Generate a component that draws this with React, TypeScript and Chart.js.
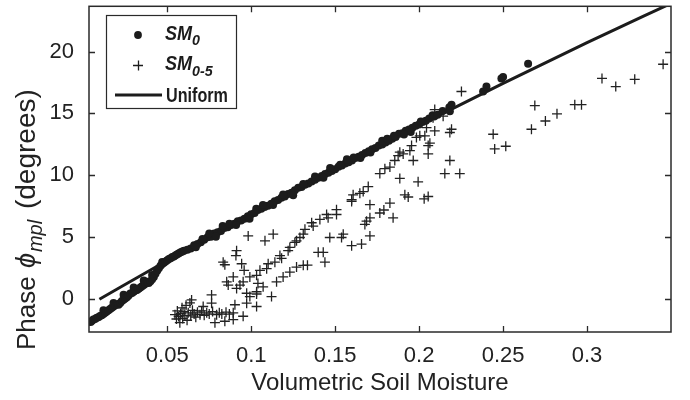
import React, { useEffect, useRef } from "react";
import { Chart, registerables } from "chart.js";

Chart.register(...registerables);

const FONT = "'Liberation Sans', Arial, Helvetica, sans-serif";
const INK = "#1c1c1c";

// ---------- axis ----------
const xRange = [0.0034, 0.35];
const yRange = [-2.65, 23.65];
const xTickValues = [0.05, 0.1, 0.15, 0.2, 0.25, 0.3];
const xTickLabels = ["0.05", "0.1", "0.15", "0.2", "0.25", "0.3"];
const yTickValues = [0, 5, 10, 15, 20];
const yTickLabels = ["0", "5", "10", "15", "20"];
const xTitle = "Volumetric Soil Moisture";

// ---------- SM0 (filled dots) ----------
const sm0LowX = [
  0.0044, 0.0052, 0.006, 0.007, 0.008, 0.009, 0.01, 0.011, 0.012, 0.012,
  0.013, 0.014, 0.015, 0.016, 0.017, 0.018, 0.018, 0.019, 0.02, 0.021,
  0.022, 0.023, 0.024, 0.024, 0.025, 0.026, 0.027, 0.028, 0.029, 0.03,
  0.03, 0.031, 0.032, 0.033, 0.034, 0.035, 0.036, 0.036, 0.037, 0.038,
  0.039, 0.04, 0.041, 0.041, 0.042, 0.043, 0.044, 0.045, 0.046, 0.047,
  0.047, 0.048, 0.049, 0.05, 0.051, 0.052, 0.053, 0.054, 0.055, 0.056,
  0.057, 0.058, 0.059, 0.06,
];
const sm0LowY = [
  -1.85, -1.75, -1.65, -1.6, -1.5, -1.45, -1.35, -1.3, -1.2, -0.9,
  -1.1, -1.0, -0.9, -0.8, -0.7, -0.6, -0.3, -0.5, -0.4, -0.45,
  -0.3, -0.15, -0.05, 0.35, 0.05, 0.15, 0.3, 0.45, 0.5, 0.6,
  0.95, 0.7, 0.75, 0.85, 0.95, 1.05, 1.15, 1.5, 1.25, 1.4,
  1.3, 1.45, 1.6, 1.95, 1.8, 2.05, 2.3, 2.5, 2.7, 2.85,
  3.0, 2.95, 3.05, 3.15, 3.25, 3.3, 3.4, 3.45, 3.55, 3.62,
  3.7, 3.78, 3.85, 3.92,
];
const sm0MainX = [
  0.062, 0.064, 0.066, 0.068, 0.07, 0.072, 0.074, 0.076, 0.078, 0.08,
  0.082, 0.084, 0.086, 0.088, 0.09, 0.092, 0.094, 0.096, 0.098, 0.1,
  0.102, 0.104, 0.106, 0.108, 0.11, 0.112, 0.114, 0.116, 0.118, 0.12,
  0.122, 0.124, 0.126, 0.128, 0.13, 0.132, 0.134, 0.136, 0.138, 0.14,
  0.142, 0.144, 0.146, 0.148, 0.15, 0.152, 0.154, 0.156, 0.158, 0.16,
  0.162, 0.164, 0.166, 0.168, 0.17, 0.172, 0.174, 0.176, 0.178, 0.18,
  0.182, 0.184, 0.186, 0.188, 0.19, 0.192, 0.194, 0.196, 0.198, 0.2,
  0.202, 0.204, 0.206, 0.208,
];
const sm0MainY = [
  4.0, 4.1, 4.35, 4.45, 4.6, 4.8, 5.0, 5.05, 5.3, 5.4,
  5.5, 5.75, 5.8, 6.0, 6.1, 6.3, 6.35, 6.5, 6.7, 6.85,
  6.95, 7.2, 7.3, 7.45, 7.55, 7.7, 7.9, 8.0, 8.2, 8.3,
  8.5, 8.6, 8.8, 9.0, 9.05, 9.25, 9.35, 9.5, 9.65, 9.8,
  9.95, 10.1, 10.2, 10.35, 10.5, 10.7, 10.8, 10.95, 11.05, 11.2,
  11.4, 11.5, 11.65, 11.8, 11.95, 12.1, 12.2, 12.4, 12.5, 12.65,
  12.8, 12.95, 13.1, 13.35, 13.4, 13.6, 13.7, 13.85, 14.0, 14.1,
  14.3, 14.4, 14.6, 14.85,
];
const sm0ExtraX = [
  0.075, 0.083, 0.099, 0.107, 0.125, 0.138, 0.147, 0.157, 0.165, 0.178,
  0.185, 0.195, 0.209, 0.211, 0.214, 0.218, 0.2183, 0.2193, 0.2381, 0.2401,
  0.249, 0.25, 0.2649, 0.067, 0.071, 0.079, 0.087, 0.091, 0.103, 0.113,
  0.119, 0.131, 0.143, 0.153, 0.161, 0.171, 0.181, 0.191, 0.201,
];
const sm0ExtraY = [
  5.3, 5.9, 6.5, 7.6, 8.4, 9.9, 10.6, 11.3, 11.4, 12.8,
  13.2, 13.5, 14.75, 14.9, 15.2, 15.5, 15.18, 15.71, 16.77, 17.17,
  17.83, 17.95, 19.02, 4.2, 4.85, 5.05, 6.1, 6.0, 7.3, 7.6,
  8.45, 9.3, 9.8, 10.85, 11.45, 11.85, 12.95, 13.3, 14.35,
];

// ---------- SM0-5 (plus markers) ----------
const sm05X = [
  0.0546, 0.0555, 0.056, 0.0568, 0.0575, 0.058, 0.0588, 0.0592, 0.06, 0.0605,
  0.0612, 0.0618, 0.0625, 0.0635, 0.064, 0.0645, 0.065, 0.066, 0.067, 0.068,
  0.0695, 0.0705, 0.0714, 0.072, 0.0735, 0.075, 0.0764, 0.0764, 0.077, 0.0784,
  0.0794, 0.081, 0.0825, 0.0843, 0.085, 0.087, 0.0893, 0.0893, 0.0903, 0.0952,
  0.0973, 0.1032, 0.0973, 0.1032, 0.0913, 0.0992, 0.1121, 0.0854, 0.0863, 0.0893,
  0.0833, 0.0843, 0.0913, 0.0909, 0.0943, 0.0958, 0.0982, 0.1082, 0.1131, 0.0933,
  0.104, 0.0952, 0.0992, 0.1032, 0.1052, 0.1092, 0.1101, 0.1141, 0.1171, 0.1181,
  0.122, 0.123, 0.126, 0.127, 0.129, 0.131, 0.132, 0.136, 0.1369, 0.1409,
  0.1449, 0.1458, 0.1508, 0.1508, 0.1598, 0.1607, 0.1647, 0.1667, 0.1697, 0.1766,
  0.1796, 0.1826, 0.1855, 0.1875, 0.1905, 0.1955, 0.1945, 0.1984, 0.2034, 0.2044,
  0.2093, 0.2054, 0.2064, 0.2093, 0.2143, 0.2083, 0.2252, 0.2193, 0.2183, 0.1885,
  0.1151, 0.119, 0.123, 0.127, 0.131, 0.1335, 0.1399, 0.1429, 0.1439, 0.1468,
  0.1538, 0.1548, 0.1598, 0.1657, 0.1707, 0.1687, 0.1707, 0.1677, 0.1766, 0.179,
  0.1845, 0.1707, 0.1826, 0.1598, 0.1915, 0.1935, 0.2054, 0.203, 0.1885, 0.1994,
  0.1965, 0.2054, 0.2183, 0.2153, 0.2242, 0.2004, 0.1071, 0.1032, 0.2441, 0.245,
  0.2516, 0.2669, 0.2689, 0.2752, 0.2821, 0.2927, 0.2967, 0.3089, 0.3171, 0.3284,
  0.3453,
];
const sm05Y = [
  -1.25, -1.6, -0.95, -1.4, -1.9, -1.15, -0.7, -1.55, -1.0, -1.3,
  -0.5, -1.7, -1.1, -0.3, -1.35, -0.06, -0.9, -1.2, -1.45, -1.05,
  -1.25, -0.95, -0.59, -1.3, -1.1, -1.2, -0.32, 0.34, -1.0, -1.9,
  -1.25, -1.1, -1.2, -1.78, -1.05, -1.2, -1.1, -1.65, -0.45, -1.38,
  -0.32, -0.59, 0.48, 0.42, 0.87, 0.21, 0.21, 1.4, 1.14, 1.8,
  2.99, 2.78, 3.92, 3.52, 2.86, 2.33, 5.11, 4.71, 5.25, 1.14,
  1.27, 1.4, 1.8, 1.93, 2.33, 2.46, 2.86, 2.99, 3.52, 3.3,
  3.92, 4.18, 4.58, 4.71, 4.98, 5.25, 5.64, 6.17, 5.9, 6.44,
  6.84, 6.57, 7.23, 6.84, 8.03, 8.43, 8.55, 8.69, 9.09, 10.14,
  10.54, 10.67, 11.2, 11.6, 11.73, 12.4, 12.0, 13.06, 13.19, 13.85,
  13.59, 12.4, 12.6, 15.31, 14.78, 14.65, 16.77, 13.72, 13.46, 11.87,
  1.4, 1.8, 2.19, 2.59, 2.73, 2.75, 3.78, 3.78, 2.99, 4.98,
  4.98, 5.25, 4.32, 4.45, 5.11, 6.3, 6.57, 6.04, 6.96, 7.2,
  6.57, 7.63, 7.76, 7.89, 8.43, 8.25, 8.29, 8.1, 9.75, 9.48,
  11.2, 11.73, 11.2, 10.14, 10.14, 13.19, 1.0, 0.6, 13.32, 12.13,
  12.35, 13.72, 15.63, 14.39, 14.97, 15.71, 15.71, 17.83, 17.17, 17.75,
  18.97,
];

// ---------- Uniform model curve ----------
const uniformX = [0.0096, 0.05, 0.1, 0.15, 0.2, 0.25, 0.3, 0.35];
const uniformY = [0, 3.12, 6.87, 10.51, 14.03, 17.43, 20.72, 23.88];

const zip = (xs: number[], ys: number[]) => xs.map((x, i) => ({ x, y: ys[i] }));

const frameTicksPlugin = {
  id: "frameTicks",
  afterDatasetsDraw(chart: any) {
    const { ctx, chartArea: a, scales } = chart;
    const xs = scales.x;
    const ys = scales.y;
    const L = 6;
    ctx.save();
    ctx.strokeStyle = "#2a2a2a";
    ctx.lineWidth = 1.3;
    ctx.beginPath();
    xTickValues.forEach((v) => {
      const px = Math.round(xs.getPixelForValue(v)) + 0.5;
      ctx.moveTo(px, a.bottom);
      ctx.lineTo(px, a.bottom - L);
      ctx.moveTo(px, a.top);
      ctx.lineTo(px, a.top + L);
    });
    yTickValues.forEach((v) => {
      const py = Math.round(ys.getPixelForValue(v)) + 0.5;
      ctx.moveTo(a.left, py);
      ctx.lineTo(a.left + L, py);
      ctx.moveTo(a.right, py);
      ctx.lineTo(a.right - L, py);
    });
    ctx.stroke();
    ctx.lineWidth = 1.5;
    ctx.strokeRect(a.left, a.top, a.right - a.left, a.bottom - a.top);
    ctx.restore();
  },
};

function drawScaledText(ctx: CanvasRenderingContext2D, text: string, x: number, y: number, font: string, sx: number) {
  ctx.save();
  ctx.font = font;
  ctx.translate(x, y);
  ctx.scale(sx, 1);
  ctx.fillText(text, 0, 0);
  const w = ctx.measureText(text).width * sx;
  ctx.restore();
  return w;
}

const legendAndTitlePlugin = {
  id: "legendAndTitle",
  afterDraw(chart: any) {
    const ctx: CanvasRenderingContext2D = chart.ctx;
    ctx.save();
    // ---- legend box ----
    const bx = 106, by = 15, bw = 130, bh = 93;
    ctx.fillStyle = "#ffffff";
    ctx.fillRect(bx, by, bw, bh);
    ctx.strokeStyle = "#2a2a2a";
    ctx.lineWidth = 1.2;
    ctx.strokeRect(bx + 0.5, by + 0.5, bw, bh);
    ctx.fillStyle = INK;
    ctx.strokeStyle = INK;
    ctx.beginPath();
    ctx.arc(138, 35, 3.9, 0, Math.PI * 2);
    ctx.fill();
    ctx.lineWidth = 1.3;
    ctx.beginPath();
    ctx.moveTo(133, 65.5);
    ctx.lineTo(143, 65.5);
    ctx.moveTo(138.5, 60.5);
    ctx.lineTo(138.5, 70.5);
    ctx.stroke();
    ctx.lineWidth = 3;
    ctx.beginPath();
    ctx.moveTo(115, 95);
    ctx.lineTo(162, 95);
    ctx.stroke();
    ctx.textBaseline = "alphabetic";
    ctx.textAlign = "left";
    const big = `italic bold 21px ${FONT}`;
    const small = `italic bold 15px ${FONT}`;
    let w = drawScaledText(ctx, "SM", 165, 40, big, 0.86);
    drawScaledText(ctx, "0", 165 + w, 45, small, 0.95);
    w = drawScaledText(ctx, "SM", 165, 70, big, 0.86);
    drawScaledText(ctx, "0-5", 165 + w, 76, small, 0.95);
    drawScaledText(ctx, "Uniform", 166, 102, `bold 21px ${FONT}`, 0.77);

    // ---- y axis title with subscript ----
    ctx.translate(35, 350);
    ctx.rotate(-Math.PI / 2);
    ctx.fillStyle = "#222";
    let x = 0;
    ctx.font = `26px ${FONT}`;
    ctx.fillText("Phase ", x, 0);
    x += ctx.measureText("Phase ").width + 1;
    ctx.font = `italic 27px ${FONT}`;
    ctx.fillText("\u03D5", x, 0);
    x += ctx.measureText("\u03D5").width + 1;
    ctx.font = `italic 20px ${FONT}`;
    ctx.fillText("mpl", x, 7);
    x += ctx.measureText("mpl").width + 3;
    ctx.font = `28px ${FONT}`;
    ctx.fillText(" (degrees)", x, 0);
    ctx.restore();
  },
};

export default function App() {
  const ref = useRef<HTMLCanvasElement | null>(null);

  useEffect(() => {
    document.body.style.margin = "0";
    const canvas = ref.current;
    if (!canvas) return;
    const chart = new Chart(canvas, {
      type: "scatter",
      data: {
        datasets: [
          {
            label: "SM0",
            data: [...zip(sm0LowX, sm0LowY), ...zip(sm0MainX, sm0MainY), ...zip(sm0ExtraX, sm0ExtraY)],
            pointStyle: "circle",
            pointRadius: 4,
            pointBackgroundColor: INK,
            pointBorderWidth: 0,
            showLine: false,
          },
          {
            label: "SM0-5",
            data: zip(sm05X, sm05Y),
            pointStyle: "cross",
            pointRadius: 5,
            pointBorderColor: "#222",
            pointBorderWidth: 1.3,
            showLine: false,
          },
          {
            label: "Uniform",
            data: zip(uniformX, uniformY),
            showLine: true,
            pointRadius: 0,
            borderColor: INK,
            borderWidth: 3,
            cubicInterpolationMode: "monotone",
            clip: 0,
          } as any,
        ],
      },
      options: {
        responsive: false,
        animation: false,
        events: [],
        layout: { padding: { left: 0, right: 19, top: 2, bottom: 0 } },
        plugins: {
          legend: { display: false },
          tooltip: { enabled: false },
        },
        scales: {
          x: {
            type: "linear",
            min: xRange[0],
            max: xRange[1],
            grid: { display: false },
            border: { display: false },
            afterBuildTicks: (s: any) => {
              s.ticks = xTickValues.map((v) => ({ value: v }));
            },
            afterFit: (s: any) => {
              s.height = 68;
              s.paddingLeft = 0;
              s.paddingRight = 0;
            },
            ticks: {
              padding: 3,
              color: "#222",
              font: { family: FONT, size: 22 },
              maxRotation: 0,
              callback: (v: any) => xTickLabels[xTickValues.indexOf(Number(v))] ?? "",
            },
            title: {
              display: true,
              text: xTitle,
              color: "#222",
              font: { family: FONT, size: 24 },
              padding: { top: 0, bottom: 2 },
            },
          },
          y: {
            type: "linear",
            min: yRange[0],
            max: yRange[1],
            grid: { display: false },
            border: { display: false },
            afterBuildTicks: (s: any) => {
              s.ticks = yTickValues.map((v) => ({ value: v }));
            },
            afterFit: (s: any) => {
              s.width = 89;
              s.paddingTop = 0;
              s.paddingBottom = 0;
            },
            ticks: {
              padding: 7,
              color: "#222",
              font: { family: FONT, size: 22 },
              callback: (v: any) => yTickLabels[yTickValues.indexOf(Number(v))] ?? "",
            },
          },
        },
      },
      plugins: [frameTicksPlugin, legendAndTitlePlugin],
    });
    return () => chart.destroy();
  }, []);

  return (
    <div style={{ width: 690, height: 400 }}>
      <canvas ref={ref} width={690} height={400} />
    </div>
  );
}
